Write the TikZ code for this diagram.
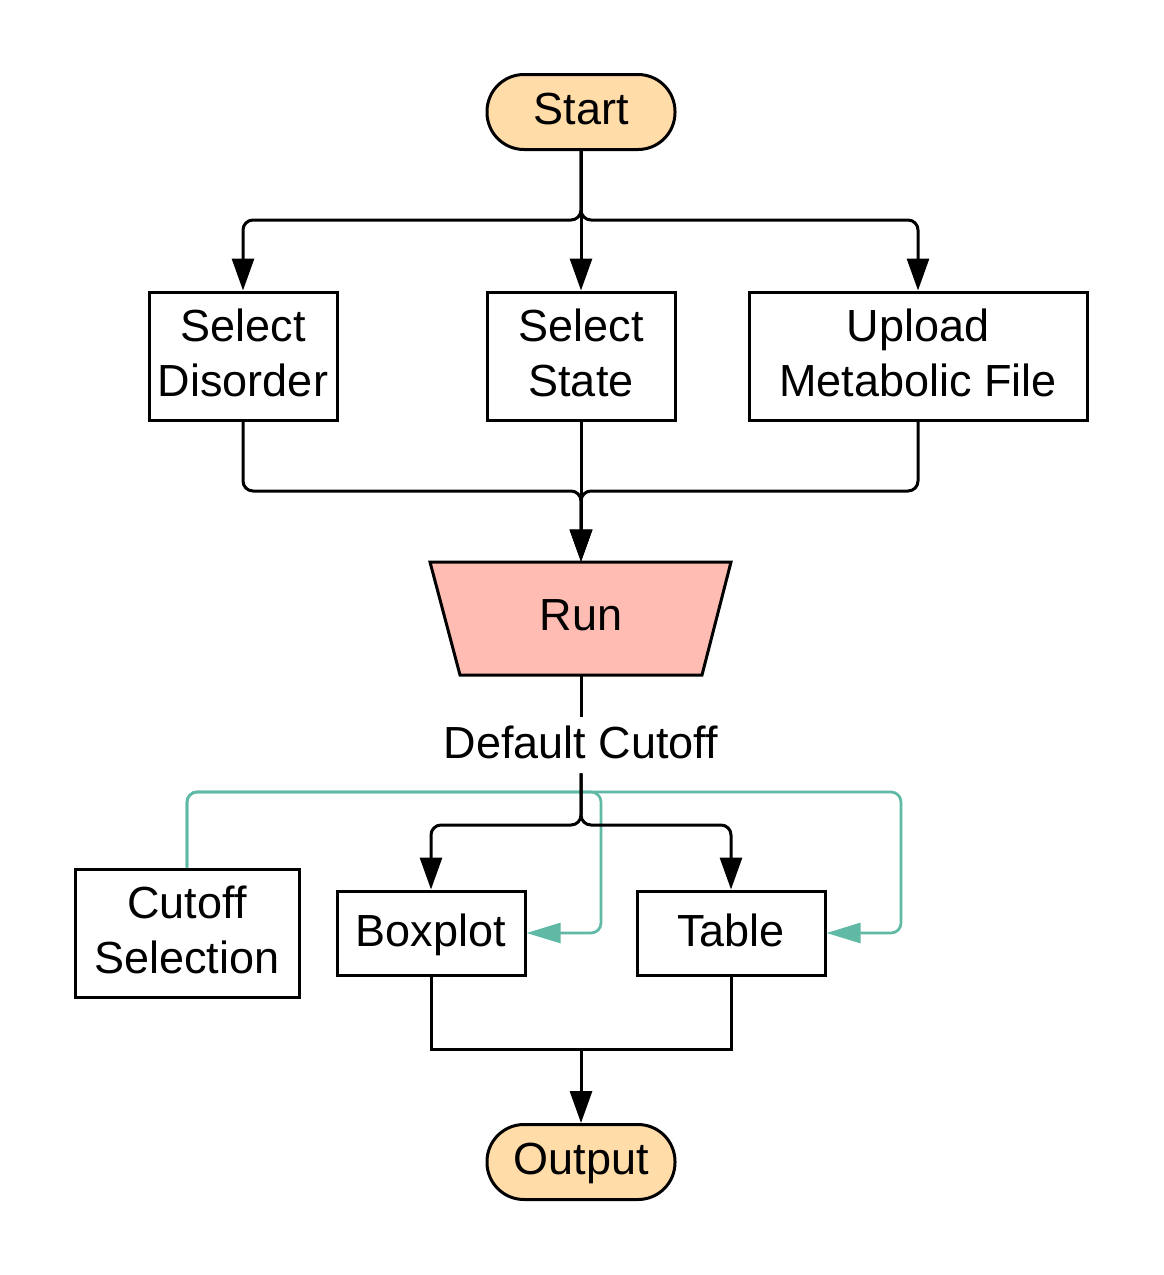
\documentclass[tikz,border=0pt]{standalone}
\usepackage{fontspec}
\setmainfont{Liberation Sans}
\usetikzlibrary{shapes}
\usetikzlibrary{arrows.meta}
\definecolor{debut}{HTML}{FFDCA8}
\definecolor{lancer}{HTML}{FFBCB3}
\definecolor{seuil}{HTML}{5FB9A5}

\begin{document}
\begin{tikzpicture}[x=0.5pt,y=-0.5pt]
\tikzstyle{lien}=[-{Triangle[length=16pt,width=11pt]},line width=1.5pt,rounded corners=5pt]
\tikzstyle{trait}=[line width=1.5pt]
\tikzstyle{retour}=[-{Triangle[length=17pt,width=10pt]},draw=seuil,color=seuil,line width=1.35pt,rounded corners=5pt]
\tikzset{every node/.style={font=\fontsize{22.5}{27.5}\selectfont,align=center,inner sep=0pt,text depth=0.3em},
etape/.style={draw,line width=1.5pt,minimum width=#1,minimum height=64pt},
etape/.default={94pt},
petite/.style={draw,line width=1.5pt,minimum width=94pt,minimum height=42pt},
borne/.style={draw,line width=1.5pt,rounded corners=18.5pt,fill=debut,minimum width=94pt,minimum height=37.5pt}}
\useasboundingbox (0,0) rectangle (1163,1275);
% forme du bouton Run
\draw [trait,fill=lancer] (430,562) -- (731,562) -- (702,675) -- (460,675) -- cycle;
% noeuds
\node [borne] (start) at (581,112) {Start};
\node [etape] (disorder) at (243,356) {Select\\Disorder};
\node [etape] (state) at (581,356) {Select\\State};
\node [etape=169pt] (upload) at (918,356) {Upload\\Metabolic File};
\node [minimum width=150.5pt,minimum height=56.5pt] (run) at (581,618.5) {Run};
\node [fill=white,minimum height=28pt] (cutoff) at (581,745) {Default Cutoff};
\node [etape=112pt] (cutsel) at (187,933) {Cutoff\\Selection};
\node [petite] (boxplot) at (431,933) {Boxplot};
\node [petite] (table) at (731,933) {Table};
\node [borne] (output) at (581,1162) {Output};
\coordinate (haut) at (581,220);
\coordinate (milieu) at (581,491);
\coordinate (bas) at (581,825);
\coordinate (coude1) at (601,792);
\coordinate (coude2) at (901,792);
\coordinate (fin) at (581,1049);
% liens
\draw [lien] (start) -- (haut) -| (disorder);
\draw [lien] (start) -- (state);
\draw [lien] (start) -- (haut) -| (upload);
\draw [lien] (disorder) |- (milieu) -- (run);
\draw [lien] (state) -- (run);
\draw [lien] (upload) |- (milieu) -- (run);
\draw [trait] (run) -- (cutoff);
\draw [retour] (cutsel) |- (coude1) |- (boxplot);
\draw [retour] (cutsel) |- (coude2) |- (table);
\draw [lien] (cutoff) -- (bas) -| (boxplot);
\draw [lien] (cutoff) -- (bas) -| (table);
\draw [trait] (boxplot) |- (fin);
\draw [trait] (table) |- (fin);
\draw [lien,rounded corners=0pt] (fin) -- (output);
\end{tikzpicture}
\end{document}
